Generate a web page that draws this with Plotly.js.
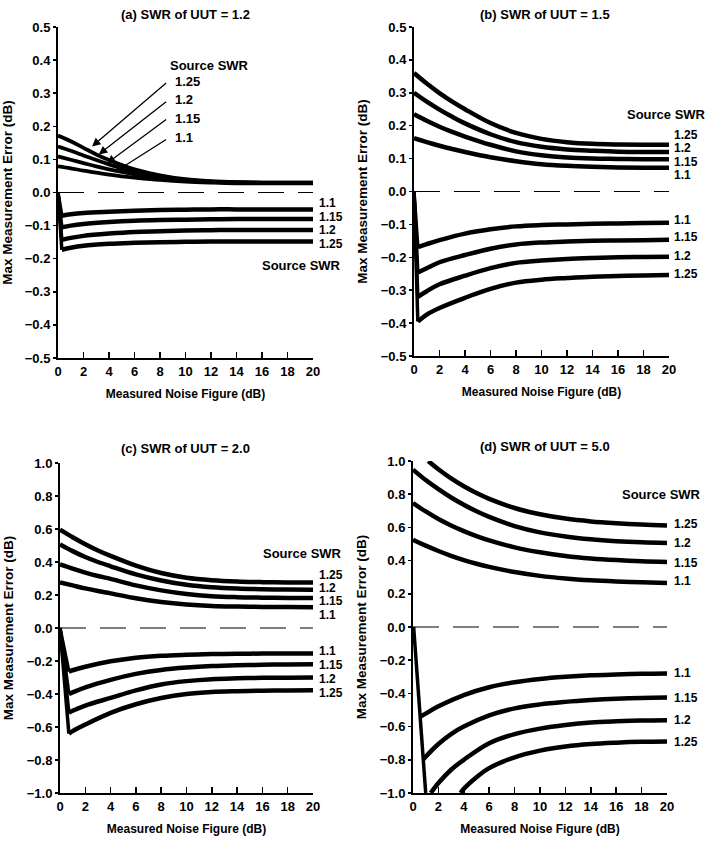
<!DOCTYPE html>
<html>
<head>
<meta charset="utf-8">
<script src="https://cdn.plot.ly/plotly-3.0.1.min.js"></script>
<style>html,body{margin:0;padding:0;background:#fff;}#chart{width:706px;height:842px;}</style>
</head>
<body>
<div id="chart"></div>
<script>
// ---------- Data ----------
const sourceSWR = ['1.1', '1.15', '1.2', '1.25'];
const panelTitles = ['(a) SWR of UUT = 1.2', '(b) SWR of UUT = 1.5', '(c) SWR of UUT = 2.0', '(d) SWR of UUT = 5.0'];
const xTicks = [0, 2, 4, 6, 8, 10, 12, 14, 16, 18, 20];
const zeroLineX = [0, 20];
const zeroLineY = [0, 0];

// Panel (a) UUT SWR 1.2
const nfA_up = [0, 1, 2, 3, 4, 5, 6, 8, 10, 12, 14, 16, 18, 20];
const errA_up_110 = [0.079, 0.073, 0.066, 0.060, 0.054, 0.049, 0.045, 0.038, 0.033, 0.030, 0.028, 0.028, 0.028, 0.028];
const errA_up_115 = [0.109, 0.099, 0.089, 0.079, 0.070, 0.062, 0.055, 0.044, 0.036, 0.032, 0.030, 0.029, 0.029, 0.029];
const errA_up_120 = [0.139, 0.126, 0.112, 0.098, 0.085, 0.073, 0.063, 0.048, 0.038, 0.033, 0.031, 0.030, 0.030, 0.030];
const errA_up_125 = [0.172, 0.155, 0.135, 0.115, 0.098, 0.083, 0.070, 0.052, 0.040, 0.034, 0.031, 0.030, 0.030, 0.030];
const nfA_lo = [0, 0.3, 1, 2, 4, 6, 8, 10, 12, 14, 16, 20];
const errA_lo_110 = [0, -0.070, -0.066, -0.062, -0.058, -0.055, -0.053, -0.052, -0.051, -0.051, -0.051, -0.051];
const errA_lo_115 = [0, -0.105, -0.100, -0.095, -0.089, -0.085, -0.083, -0.082, -0.081, -0.080, -0.080, -0.080];
const errA_lo_120 = [0, -0.143, -0.137, -0.131, -0.124, -0.119, -0.117, -0.115, -0.114, -0.113, -0.113, -0.113];
const errA_lo_125 = [0, -0.173, -0.167, -0.161, -0.155, -0.152, -0.150, -0.149, -0.148, -0.148, -0.148, -0.148];

// Panel (b) UUT SWR 1.5
const nfB_up = [0, 1, 2, 3, 4, 6, 8, 10, 12, 14, 16, 18, 20];
const errB_up_110 = [0.162, 0.150, 0.139, 0.129, 0.120, 0.104, 0.092, 0.083, 0.078, 0.075, 0.073, 0.072, 0.072];
const errB_up_115 = [0.235, 0.215, 0.197, 0.181, 0.167, 0.142, 0.122, 0.110, 0.103, 0.100, 0.099, 0.098, 0.098];
const errB_up_120 = [0.300, 0.273, 0.249, 0.227, 0.207, 0.174, 0.150, 0.136, 0.128, 0.124, 0.121, 0.120, 0.120];
const errB_up_125 = [0.360, 0.328, 0.299, 0.273, 0.250, 0.208, 0.178, 0.160, 0.150, 0.145, 0.143, 0.142, 0.142];
const nfB_lo = [0, 0.3, 1, 2, 4, 6, 8, 10, 12, 14, 16, 18, 20];
const errB_lo_110 = [0, -0.169, -0.160, -0.148, -0.128, -0.115, -0.106, -0.102, -0.100, -0.098, -0.097, -0.096, -0.095];
const errB_lo_115 = [0, -0.246, -0.233, -0.215, -0.193, -0.174, -0.161, -0.155, -0.152, -0.150, -0.149, -0.148, -0.147];
const errB_lo_120 = [0, -0.320, -0.303, -0.282, -0.256, -0.233, -0.217, -0.210, -0.205, -0.202, -0.200, -0.199, -0.198];
const errB_lo_125 = [0, -0.395, -0.374, -0.354, -0.323, -0.296, -0.277, -0.268, -0.263, -0.259, -0.257, -0.255, -0.254];

// Panel (c) UUT SWR 2.0
const nfC_up = [0, 1, 2, 3, 4, 6, 8, 10, 12, 14, 16, 18, 20];
const errC_up_110 = [0.276, 0.258, 0.240, 0.224, 0.210, 0.180, 0.158, 0.143, 0.134, 0.130, 0.128, 0.127, 0.126];
const errC_up_115 = [0.386, 0.360, 0.336, 0.315, 0.298, 0.258, 0.228, 0.206, 0.193, 0.187, 0.184, 0.182, 0.182];
const errC_up_120 = [0.506, 0.466, 0.430, 0.400, 0.374, 0.325, 0.288, 0.262, 0.247, 0.239, 0.235, 0.233, 0.232];
const errC_up_125 = [0.596, 0.550, 0.508, 0.470, 0.437, 0.378, 0.333, 0.305, 0.290, 0.282, 0.278, 0.276, 0.276];
const nfC_lo = [0, 0.7, 1, 2, 4, 6, 8, 10, 12, 14, 16, 18, 20];
const errC_lo_110 = [0, -0.264, -0.256, -0.235, -0.202, -0.180, -0.168, -0.162, -0.158, -0.156, -0.155, -0.154, -0.154];
const errC_lo_115 = [0, -0.400, -0.390, -0.360, -0.314, -0.278, -0.254, -0.240, -0.231, -0.226, -0.223, -0.221, -0.220];
const errC_lo_120 = [0, -0.514, -0.502, -0.470, -0.424, -0.378, -0.342, -0.322, -0.310, -0.305, -0.302, -0.301, -0.300];
const errC_lo_125 = [0, -0.640, -0.625, -0.585, -0.514, -0.462, -0.424, -0.400, -0.388, -0.383, -0.380, -0.379, -0.378];

// Panel (d) UUT SWR 5.0
const nfD_up = [0, 1, 2, 3, 4, 5, 6, 8, 10, 12, 14, 16, 18, 20];
const errD_up_110 = [0.526, 0.490, 0.458, 0.429, 0.403, 0.381, 0.362, 0.331, 0.308, 0.292, 0.281, 0.274, 0.269, 0.265];
const errD_up_115 = [0.747, 0.696, 0.651, 0.612, 0.578, 0.548, 0.522, 0.480, 0.450, 0.428, 0.413, 0.403, 0.396, 0.392];
const errD_up_120 = [0.948, 0.885, 0.830, 0.780, 0.736, 0.697, 0.663, 0.608, 0.570, 0.545, 0.528, 0.517, 0.510, 0.506];
const nfD_up_125 = [1.2, 2, 3, 4, 5, 6, 8, 10, 12, 14, 16, 18, 20];
const errD_up_125 = [1.0, 0.950, 0.895, 0.848, 0.807, 0.772, 0.717, 0.679, 0.653, 0.636, 0.625, 0.617, 0.612];
const nfD_drop = [0.05, 1.0];
const errD_drop = [0, -1.0];
const nfD_lo_110 = [0.6, 1, 2, 4, 6, 8, 10, 12, 14, 16, 18, 20];
const errD_lo_110 = [-0.540, -0.522, -0.478, -0.410, -0.363, -0.333, -0.313, -0.300, -0.291, -0.286, -0.282, -0.280];
const nfD_lo_115 = [0.82, 2, 3, 4, 6, 8, 10, 12, 14, 16, 18, 20];
const errD_lo_115 = [-0.796, -0.705, -0.645, -0.600, -0.533, -0.490, -0.466, -0.451, -0.440, -0.432, -0.427, -0.425];
const nfD_lo_120 = [1.4, 2, 3, 4, 6, 8, 10, 12, 14, 16, 18, 20];
const errD_lo_120 = [-1.0, -0.940, -0.860, -0.800, -0.700, -0.645, -0.612, -0.590, -0.575, -0.568, -0.564, -0.562];
const nfD_lo_125 = [3.75, 4, 5, 6, 8, 10, 12, 14, 16, 18, 20];
const errD_lo_125 = [-1.0, -0.975, -0.905, -0.850, -0.785, -0.745, -0.720, -0.705, -0.697, -0.692, -0.690];

// ---------- Helpers ----------
const FONT = 'Liberation Sans, Arial, Helvetica, sans-serif';
const traces = [];
function spline(x, y, ax, w) {
  traces.push({x: x, y: y, xaxis: 'x' + ax, yaxis: 'y' + ax, type: 'scatter', mode: 'lines',
    line: {color: '#000', width: w || 4.5, shape: 'spline', smoothing: 1}, cliponaxis: false, hoverinfo: 'skip'});
}
function straight(x, y, ax, w) {
  traces.push({x: x, y: y, xaxis: 'x' + ax, yaxis: 'y' + ax, type: 'scatter', mode: 'lines',
    line: {color: '#000', width: w || 4}, cliponaxis: false, hoverinfo: 'skip'});
}
function lower(x, y, ax) {           // drop from 0 then recovering curve
  straight(x.slice(0, 2), y.slice(0, 2), ax, 3.5);
  spline(x.slice(1), y.slice(1), ax);
}
function zero(ax) {
  traces.push({x: zeroLineX, y: zeroLineY, xaxis: 'x' + ax, yaxis: 'y' + ax, type: 'scatter', mode: 'lines',
    line: {color: '#000', width: 1.2, dash: '26px,14px'}, cliponaxis: false, hoverinfo: 'skip'});
}

// Panel a
zero('');
[errA_up_110, errA_up_115, errA_up_120, errA_up_125].forEach(e => spline(nfA_up, e, '', 3.8));
[errA_lo_110, errA_lo_115, errA_lo_120, errA_lo_125].forEach(e => lower(nfA_lo, e, ''));
// Panel b
zero('2');
[errB_up_110, errB_up_115, errB_up_120, errB_up_125].forEach(e => spline(nfB_up, e, '2'));
[errB_lo_110, errB_lo_115, errB_lo_120, errB_lo_125].forEach(e => lower(nfB_lo, e, '2'));
// Panel c
zero('3');
[errC_up_110, errC_up_115, errC_up_120, errC_up_125].forEach(e => spline(nfC_up, e, '3'));
[errC_lo_110, errC_lo_115, errC_lo_120, errC_lo_125].forEach(e => lower(nfC_lo, e, '3'));
// Panel d
zero('4');
[errD_up_110, errD_up_115, errD_up_120].forEach(e => spline(nfD_up, e, '4'));
spline(nfD_up_125, errD_up_125, '4');
straight(nfD_drop, errD_drop, '4', 3.5);
spline(nfD_lo_110, errD_lo_110, '4');
spline(nfD_lo_115, errD_lo_115, '4');
spline(nfD_lo_120, errD_lo_120, '4');
spline(nfD_lo_125, errD_lo_125, '4');

// ---------- Axes ----------
const tickFont = {family: FONT, size: 13, color: '#000', weight: 'bold'};
const xTitleFont = {family: FONT, size: 12, color: '#000', weight: 'bold'};
const yTitleFont = {family: FONT, size: 13.5, color: '#000', weight: 'bold'};
function xAx(domain, anchor) {
  return {domain: domain, anchor: anchor, range: [0, 20], tickvals: xTicks, ticks: 'inside', ticklen: 6, tickwidth: 1.5,
    tickcolor: '#000', showline: true, linewidth: 2, linecolor: '#000', showgrid: false, zeroline: false,
    tickfont: tickFont, fixedrange: true,
    title: {text: 'Measured Noise Figure (dB)', font: xTitleFont, standoff: 12}};
}
function yAx(domain, anchor, range, dtick) {
  return {domain: domain, anchor: anchor, range: range, dtick: dtick, tick0: 0, tickformat: '.1f', ticks: 'outside', ticklen: 3,
    tickwidth: 1.5, tickcolor: '#000', showline: true, linewidth: 2, linecolor: '#000', showgrid: false, zeroline: false,
    tickfont: tickFont, fixedrange: true,
    title: {text: 'Max Measurement Error (dB)', font: yTitleFont, standoff: 10}};
}

const W = 706, H = 842;
const px = (a, b) => [a / W, b / W];
const py = (top, bot) => [1 - bot / H, 1 - top / H];
const domX = {'': px(58, 313), '2': px(414, 669), '3': px(60, 313), '4': px(413, 667)};

// ---------- Annotations ----------
const ann = [];
function txt(text, x, y, ax, xanchor, size) {
  ann.push({text: text, x: x, y: y, xref: 'x' + ax, yref: 'y' + ax, showarrow: false, xanchor: xanchor || 'left',
    yanchor: 'middle', font: {family: FONT, size: size || 13, color: '#000', weight: 'bold'}});
}
// label placed right of the plot area (x in data units, converted to paper so it is not hidden)
function side(text, xv, y, ax) {
  const d = domX[ax];
  ann.push({text: text, x: d[0] + xv / 20 * (d[1] - d[0]), y: y, xref: 'paper', yref: 'y' + ax, showarrow: false,
    xanchor: 'left', yanchor: 'middle', font: {family: FONT, size: 12, color: '#000', weight: 'bold'}});
}
function ptitle(text, xp, yp) {
  ann.push({text: text, x: xp / W, y: 1 - yp / H, xref: 'paper', yref: 'paper', showarrow: false, xanchor: 'center',
    yanchor: 'middle', font: {family: FONT, size: 13, color: '#000', weight: 'bold'}});
}
function arrow(x, y, tx, ty, ax) {
  ann.push({text: '', x: x, y: y, ax: tx, ay: ty, xref: 'x' + ax, yref: 'y' + ax, axref: 'x' + ax, ayref: 'y' + ax,
    showarrow: true, arrowhead: 2, arrowsize: 1.3, arrowwidth: 1.3, arrowcolor: '#000'});
}
ptitle(panelTitles[0], 185, 14);
ptitle(panelTitles[1], 545, 15);
ptitle(panelTitles[2], 185, 448);
ptitle(panelTitles[3], 545, 446);

// Panel a labels with arrows
txt('Source SWR', 8.6, 0.384, '');
const aLabY = [0.166, 0.224, 0.281, 0.335];
const aHeadX = [4.63, 3.84, 3.2, 2.67];
const aHeadY = [0.066, 0.088, 0.115, 0.139];
const aTailY = [0.163, 0.224, 0.278, 0.335];
sourceSWR.forEach((s, i) => { txt(s, 9.0, aLabY[i], ''); arrow(aHeadX[i], aHeadY[i], 8.6, aTailY[i], ''); });
const aLoLabY = [-0.032, -0.073, -0.114, -0.155];
sourceSWR.forEach((s, i) => side(s, 20.3, aLoLabY[i], ''));
txt('Source SWR', 19.1, -0.22, '', 'center');

// Panel b labels
txt('Source SWR', 19.8, 0.234, '2', 'center');
const bUpLabY = [0.050, 0.090, 0.131, 0.172];
sourceSWR.forEach((s, i) => side(s, 20.2, bUpLabY[i], '2'));
const bLoLabY = [-0.088, -0.139, -0.196, -0.252];
sourceSWR.forEach((s, i) => side(s, 20.2, bLoLabY[i], '2'));

// Panel c labels
txt('Source SWR', 19.2, 0.45, '3', 'center');
const cUpLabY = [0.079, 0.161, 0.242, 0.323];
sourceSWR.forEach((s, i) => side(s, 20.3, cUpLabY[i], '3'));
const cLoLabY = [-0.140, -0.225, -0.310, -0.396];
sourceSWR.forEach((s, i) => side(s, 20.3, cLoLabY[i], '3'));

// Panel d labels
txt('Source SWR', 19.6, 0.80, '4', 'center');
const dUpLabY = [0.277, 0.387, 0.508, 0.618];
sourceSWR.forEach((s, i) => side(s, 20.4, dUpLabY[i], '4'));
const dLoLabY = [-0.279, -0.426, -0.56, -0.69];
sourceSWR.forEach((s, i) => side(s, 20.4, dLoLabY[i], '4'));

const layout = {
  width: W, height: H, margin: {l: 0, r: 0, t: 0, b: 0}, showlegend: false,
  paper_bgcolor: '#fff', plot_bgcolor: 'rgba(0,0,0,0)',
  font: {family: FONT, color: '#000'},
  xaxis: xAx(domX[''], 'y'), yaxis: yAx(py(27, 358), 'x', [-0.5, 0.5], 0.1),
  xaxis2: xAx(domX['2'], 'y2'), yaxis2: yAx(py(27, 356), 'x2', [-0.5, 0.5], 0.1),
  xaxis3: xAx(domX['3'], 'y3'), yaxis3: yAx(py(463, 793), 'x3', [-1, 1], 0.2),
  xaxis4: xAx(domX['4'], 'y4'), yaxis4: yAx(py(461, 793), 'x4', [-1, 1], 0.2),
  annotations: ann
};

Plotly.newPlot('chart', traces, layout, {staticPlot: true, displayModeBar: false});
</script>
</body>
</html>
